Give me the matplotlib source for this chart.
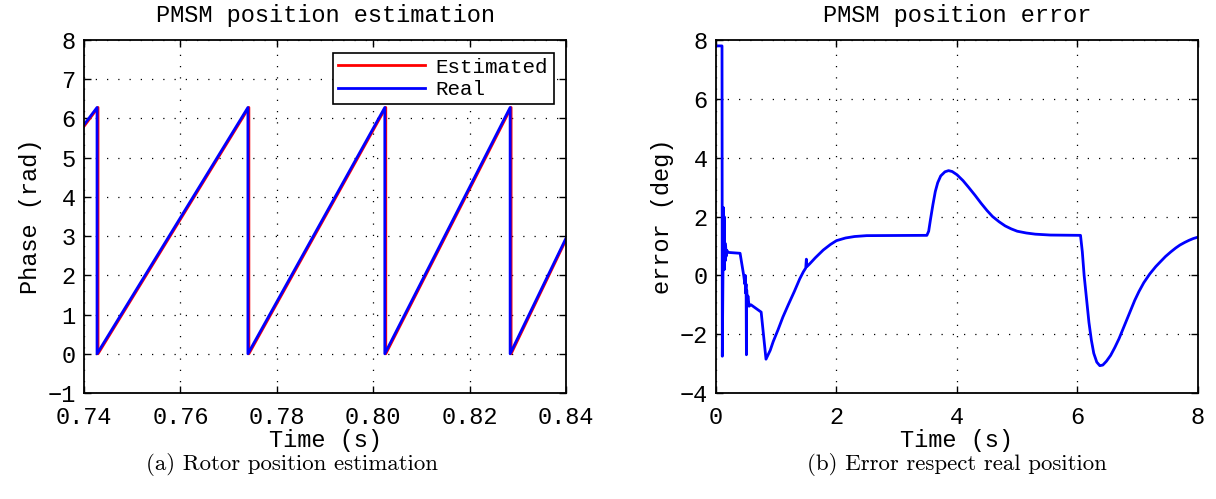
import matplotlib
matplotlib.use("Agg")
import matplotlib.pyplot as plt

# rotor angle (rad) over one window, sawtooth corners
t_real = [0.74, 0.7427, 0.7427, 0.7740, 0.7740, 0.8024, 0.8024, 0.8284, 0.8284, 0.84]
th_real = [5.84, 6.28, 0.0, 6.28, 0.0, 6.28, 0.0, 6.28, 0.0, 2.95]
t_est = [0.74, 0.7429, 0.7429, 0.7742, 0.7742, 0.8026, 0.8026, 0.8286, 0.8286, 0.84]
th_est = [5.80, 6.28, 0.0, 6.28, 0.0, 6.28, 0.0, 6.28, 0.0, 2.91]

# position error (deg) over the whole run
t_err = [0.00, 0.10, 0.105, 0.125, 0.13, 0.135, 0.14, 0.15, 0.155, 0.16,
         0.17, 0.18, 0.20, 0.40, 0.46, 0.48, 0.485, 0.49, 0.50, 0.505,
         0.51, 0.52, 0.53, 0.55, 0.58, 0.75, 0.83,
         0.90, 0.95, 1.03, 1.11, 1.20, 1.30, 1.39, 1.45, 1.49, 1.50, 1.51,
         1.55, 1.65, 1.78, 1.90, 2.00, 2.15, 2.30, 2.50, 3.50,
         3.53, 3.56, 3.60, 3.64, 3.68, 3.73, 3.80, 3.86, 3.92, 4.00, 4.10,
         4.19, 4.30, 4.40, 4.50, 4.59, 4.70, 4.80, 4.90, 5.00, 5.15, 5.30,
         5.55, 6.05,
         6.08, 6.11, 6.15, 6.19, 6.23, 6.27, 6.32, 6.37, 6.42, 6.48, 6.55,
         6.62, 6.69, 6.78, 6.87, 6.95, 7.02, 7.10, 7.20, 7.30, 7.37, 7.46,
         7.55, 7.63, 7.70, 7.78, 7.85, 7.92, 8.00]
err = [7.8, 7.8, -2.75, 2.3, 0.3, 2.0, 0.2, 1.1, 0.5, 1.0,
       0.65, 0.85, 0.78, 0.75, 0.0, -0.3, 0.0, -0.6, -0.3, -2.7,
       -0.5, -1.0, -0.7, -1.05, -1.0, -1.25, -2.85,
       -2.55, -2.25, -1.85, -1.42, -1.0, -0.55, -0.12, 0.12, 0.25, 0.55, 0.3,
       0.38, 0.6, 0.86, 1.05, 1.18, 1.27, 1.32, 1.35, 1.36,
       1.5, 1.9, 2.4, 2.85, 3.15, 3.38, 3.52, 3.56, 3.53, 3.42, 3.22,
       3.0, 2.72, 2.45, 2.2, 2.0, 1.82, 1.68, 1.58, 1.5, 1.44, 1.40,
       1.37, 1.36,
       0.8, 0.0, -0.8, -1.6, -2.2, -2.65, -2.95, -3.07, -3.05, -2.92, -2.72,
       -2.45, -2.15, -1.7, -1.25, -0.85, -0.55, -0.25, 0.05, 0.3, 0.45, 0.64,
       0.8, 0.93, 1.03, 1.12, 1.19, 1.25, 1.3]

mono = "Liberation Mono"
fs = 17

fig = plt.figure(figsize=(12.16, 4.99), dpi=100)
ax1 = fig.add_axes([0.0691, 0.2124, 0.3964, 0.7074])
ax2 = fig.add_axes([0.5888, 0.2124, 0.3964, 0.7074])


def style(ax):
    ax.grid(True, color="black", linestyle=(0, (1, 8)), linewidth=0.9)
    ax.tick_params(direction="in", top=True, right=True, length=5, width=1,
                   labelsize=fs)
    ax.tick_params(axis="x", pad=9)
    ax.tick_params(axis="y", pad=6)
    for s in ax.spines.values():
        s.set_linewidth(1.3)
    for lab in ax.get_xticklabels() + ax.get_yticklabels():
        lab.set_fontfamily(mono)


ax1.plot(t_est, th_est, color="red", lw=2, label="Estimated")
ax1.plot(t_real, th_real, color="blue", lw=2, label="Real")
ax1.set_xlim(0.74, 0.84)
ax1.set_ylim(-1, 8)
ax1.set_xticks([0.74, 0.76, 0.78, 0.80, 0.82, 0.84])
ax1.set_xticklabels(["0.74", "0.76", "0.78", "0.80", "0.82", "0.84"])
ax1.set_yticks(range(-1, 9))
ax1.set_title("PMSM position estimation", fontfamily=mono, fontsize=fs, pad=13)
ax1.set_xlabel("Time (s)", fontfamily=mono, fontsize=fs, labelpad=0)
ax1.set_ylabel("Phase (rad)", fontfamily=mono, fontsize=fs, labelpad=4)
leg = ax1.legend(loc="upper right", prop={"family": mono, "size": 15},
                 fancybox=False, framealpha=1, edgecolor="black",
                 handlelength=4.2, handletextpad=0.5, borderaxespad=0.6,
                 labelspacing=0.15, borderpad=0.25)
leg.get_frame().set_linewidth(1.2)
style(ax1)

ax2.plot(t_err, err, color="blue", lw=2)
ax2.set_xlim(0, 8)
ax2.set_ylim(-4, 8)
ax2.set_xticks([0, 2, 4, 6, 8])
ax2.set_yticks([-4, -2, 0, 2, 4, 6, 8])
ax2.set_title("PMSM position error", fontfamily=mono, fontsize=fs, pad=13)
ax2.set_xlabel("Time (s)", fontfamily=mono, fontsize=fs, labelpad=0)
ax2.set_ylabel("error (deg)", fontfamily=mono, fontsize=fs, labelpad=4)
style(ax2)

fig.text(0.240, 0.07, "(a) Rotor position estimation", fontfamily="cmr10",
         fontsize=16.5, ha="center", va="center")
fig.text(0.787, 0.07, "(b) Error respect real position", fontfamily="cmr10",
         fontsize=16.5, ha="center", va="center")

fig.savefig("out.png", dpi=100)
